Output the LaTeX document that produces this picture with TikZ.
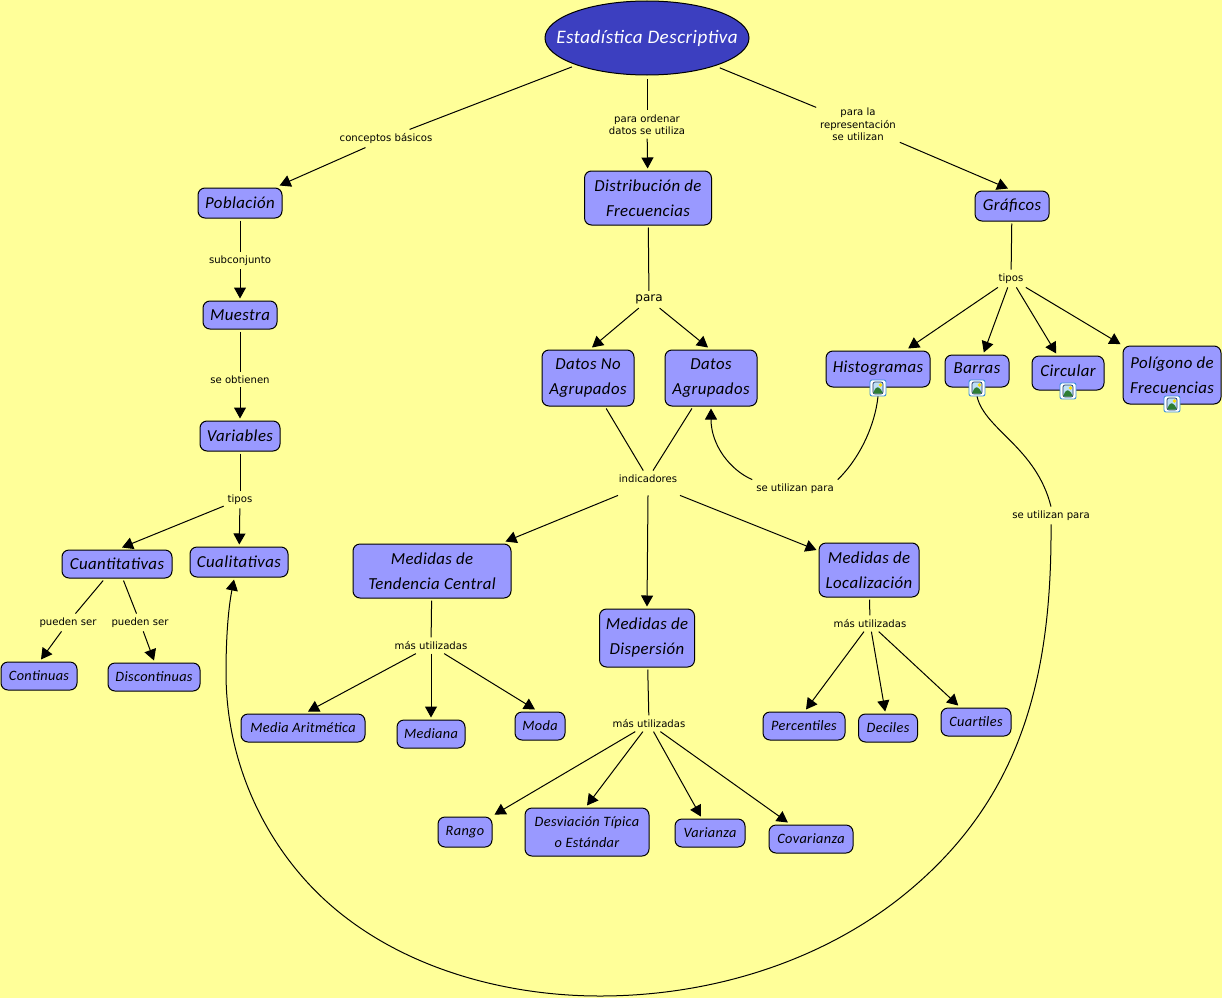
\documentclass[tikz,border=0pt]{standalone}
\usepackage{fontspec}
\usepackage{xcolor}
\usepackage{tikz}
\usetikzlibrary{shapes.geometric, arrows.meta}
\setmainfont{DejaVu Sans}
\newfontfamily\handfont[LetterSpace=2.5]{Carlito}
\definecolor{paper}{HTML}{FFFF99}
\definecolor{conceptfill}{HTML}{9999FF}
\definecolor{titlefill}{HTML}{3C3FC0}
\definecolor{iconblue}{HTML}{3B8FD8}
\definecolor{iconsky}{HTML}{BFE0F5}
\definecolor{iconhill}{HTML}{2E7D32}
\definecolor{iconframe}{HTML}{1F3864}

\begin{document}
\begin{tikzpicture}[
        x=1pt, y=-1pt,
        line width=1pt,
        % Define styles for the boxes, the linking words and the arrows
        concept/.style 2 args={draw, rectangle, rounded corners=7pt, fill=conceptfill, outer sep=2.5pt, inner sep=0pt, align=center, minimum width=#1pt, minimum height=#2pt, font=\handfont\itshape\fontsize{16.8}{25}\selectfont},
        small/.style={font=\handfont\itshape\fontsize{14.3}{21}\selectfont},
        withicon/.style={text depth=5pt},
        headline/.style={draw, ellipse, fill=titlefill, text=white, outer sep=4pt, inner xsep=-20pt, inner ysep=0pt, minimum width=204pt, minimum height=74pt, font=\handfont\itshape\fontsize{19.1}{21}\selectfont},
        linkword/.style={inner sep=0pt, outer sep=4pt, yshift=-1.5pt, align=center, font=\fontsize{10.1}{12.5}\selectfont},
        imgicon/.style={draw=iconblue, fill=white, rounded corners=2pt, minimum size=16pt, inner sep=0pt, line width=0.9pt,
            path picture={
                \fill[iconsky, draw=iconframe, line width=0.7pt] ([xshift=-5pt,yshift=-6pt]path picture bounding box.center) rectangle ([xshift=5pt,yshift=6pt]path picture bounding box.center);
                \fill[yellow!80!orange] ([xshift=2.5pt,yshift=3pt]path picture bounding box.center) circle (1.8pt);
                \fill[iconhill] ([xshift=-4.6pt,yshift=-5.6pt]path picture bounding box.center) -- ([xshift=-4.6pt,yshift=-3pt]path picture bounding box.center) -- ([xshift=-0.5pt,yshift=1.5pt]path picture bounding box.center) -- ([xshift=4.6pt,yshift=-3pt]path picture bounding box.center) -- ([xshift=4.6pt,yshift=-5.6pt]path picture bounding box.center) -- cycle;
            }},
        link/.style={draw, -{Triangle[length=11pt,width=12pt]}}
    ]
    \useasboundingbox (0,0) rectangle (1222,998);
    \fill[paper] (0,0) rectangle (1222,998);

    % Draw the title
    \node[headline] (title) at (647,38) {Estadística Descriptiva};

    % Draw the concept boxes, left branch
    \node[concept={84}{30}] (poblacion) at (240,203) {Población};
    \node[concept={74}{28}] (muestra) at (240,315) {Muestra};
    \node[concept={80}{30}] (variables) at (240,436) {Variables};
    \node[concept={110}{28}] (cuantitativas) at (117,564) {Cuantitativas};
    \node[concept={98}{30}] (cualitativas) at (239,562) {Cualitativas};
    \node[concept={76}{28}, small] (continuas) at (39,676) {Continuas};
    \node[concept={92}{28}, small] (discontinuas) at (154,677) {Discontinuas};

    % Draw the concept boxes, middle branch
    \node[concept={127}{54}] (distribucion) at (648,198) {Distribución de\\Frecuencias};
    \node[concept={92}{56}] (datosno) at (588,378) {Datos No\\Agrupados};
    \node[concept={92}{56}] (datossi) at (711,378) {Datos\\Agrupados};
    \node[concept={158}{54}] (tendencia) at (432,571) {Medidas de\\Tendencia Central};
    \node[concept={95}{58}] (dispersion) at (647,638) {Medidas de\\Dispersión};
    \node[concept={100}{54}] (localizacion) at (869,570) {Medidas de\\Localización};
    \node[concept={124}{28}, small] (media) at (303,728) {Media Aritmética};
    \node[concept={68}{28}, small] (mediana) at (431,734) {Mediana};
    \node[concept={50}{28}, small] (moda) at (540,726) {Moda};
    \node[concept={54}{30}, small] (rango) at (465,832) {Rango};
    \node[concept={124}{48}, small] (desviacion) at (587,832) {Desviación Típica\\o Estándar};
    \node[concept={70}{28}, small] (varianza) at (710,833) {Varianza};
    \node[concept={84}{28}, small] (covarianza) at (811,839) {Covarianza};
    \node[concept={82}{28}, small] (percentiles) at (804,726) {Percentiles};
    \node[concept={59}{28}, small] (deciles) at (888,728) {Deciles};
    \node[concept={70}{28}, small] (cuartiles) at (976,722) {Cuartiles};

    % Draw the concept boxes, right branch
    \node[concept={74}{30}] (graficos) at (1012,206) {Gráficos};
    \node[concept={104}{36}, withicon] (histogramas) at (878,369) {Histogramas};
    \node[concept={64}{32}, withicon] (barras) at (977,371) {Barras};
    \node[concept={72}{34}, withicon] (circular) at (1068,373) {Circular};
    \node[concept={98}{58}] (poligono) at (1172,375) {Polígono de\\Frecuencias};

    % Draw the image badges on the boxes
    \node[imgicon] (histogramasimg) at (878,388) {};
    \node[imgicon] (barrasimg) at (977,388) {};
    \node[imgicon] (circularimg) at (1068,391) {};
    \node[imgicon] (poligonoimg) at (1172,404) {};

    % Draw the linking words
    \node[linkword] (conceptos) at (386,137) {conceptos básicos};
    \node[linkword] (ordenar) at (647,123) {para ordenar\\datos se utiliza};
    \node[linkword] (representa) at (858,123) {para la\\representación\\se utilizan};
    \node[linkword] (subconjunto) at (240,259) {subconjunto};
    \node[linkword] (obtienen) at (240,378) {se obtienen};
    \node[linkword] (tipos) at (240,498) {tipos};
    \node[linkword] (puedencont) at (68,621) {pueden ser};
    \node[linkword] (puedendisc) at (140,621) {pueden ser};
    \node[linkword, font=\fontsize{12}{14}\selectfont] (para) at (649,298) {para};
    \node[linkword] (tiposgraf) at (1011,277) {tipos};
    \node[linkword] (indicadores) at (648,477) {indicadores};
    \node[linkword] (utilizanhist) at (795,487) {se utilizan para};
    \node[linkword] (utilizanbarr) at (1051,514) {se utilizan para};
    \node[linkword] (mastend) at (431,644) {más utilizadas};
    \node[linkword] (masdisp) at (649,722) {más utilizadas};
    \node[linkword] (masloc) at (870,622) {más utilizadas};

    % Draw the connecting lines, left branch
    \draw (title) -- (conceptos);
    \draw[link] (conceptos) -- (poblacion);
    \draw (poblacion) -- (subconjunto);
    \draw[link] (subconjunto) -- (muestra);
    \draw (muestra) -- (obtienen);
    \draw[link] (obtienen) -- (variables);
    \draw (variables) -- (tipos);
    \draw[link] (tipos) -- ([xshift=5pt]cuantitativas.north);
    \draw[link] (tipos) -- (cualitativas);
    \draw (cuantitativas) -- (puedencont);
    \draw[link] (puedencont) -- ([xshift=2pt]continuas.north);
    \draw (cuantitativas) -- (puedendisc);
    \draw[link] (puedendisc) -- (discontinuas.north);

    % Draw the connecting lines, middle branch
    \draw (title) -- (ordenar);
    \draw[link] (ordenar) -- (distribucion);
    \draw (distribucion) -- (para);
    \draw[link] (para) -- ([xshift=4pt]datosno.north);
    \draw[link] (para) -- ([xshift=-3pt]datossi.north);
    \draw (datosno) -- (indicadores);
    \draw (datossi) -- (indicadores);
    \draw[link] ([xshift=-30pt,yshift=-9pt]indicadores.south) -- ([xshift=-8pt]tendencia.north east);
    \draw[link] ([yshift=-9pt]indicadores.south) -- (dispersion.north);
    \draw[link] ([xshift=32pt,yshift=-9pt]indicadores.south) -- ([yshift=20pt]localizacion.west);
    \draw (tendencia) -- (mastend);
    \draw[link] (mastend) -- ([xshift=5pt]media.north);
    \draw[link] (mastend) -- (mediana);
    \draw[link] (mastend) -- ([xshift=-5pt]moda.north);
    \draw (dispersion) -- (masdisp);
    \draw[link] (masdisp) -- (rango);
    \draw[link] (masdisp) -- (desviacion.north);
    \draw[link] (masdisp) -- (varianza);
    \draw[link] (masdisp) -- (covarianza);
    \draw (localizacion) -- (masloc);
    \draw[link] (masloc) -- ([xshift=2pt]percentiles.north);
    \draw[link] (masloc) -- (deciles);
    \draw[link] (masloc) -- (cuartiles);

    % Draw the connecting lines, right branch
    \draw (title) -- (representa);
    \draw[link] (representa) -- ([xshift=-4pt]graficos.north);
    \draw (graficos) -- (tiposgraf);
    \draw[link] (tiposgraf) -- (histogramas);
    \draw[link] (tiposgraf) -- (barras);
    \draw[link] (tiposgraf) -- (circular);
    \draw[link] (tiposgraf) -- (poligono);

    % Draw the curved lines
    \draw (histogramasimg.south) .. controls (875,425) and (860,458) .. (utilizanhist.north east);
    \draw[link] (utilizanhist.north west) .. controls (730,470) and (711,445) .. (datossi.south);
    \draw (barrasimg.south) .. controls (985,430) and (1036,447) .. (utilizanbarr.north);
    \coordinate (loopa) at (900,898);
    \coordinate (loopb) at (600,996);
    \coordinate (loopc) at (307,882);
    \coordinate (loopd) at (226,673);
    \draw[link] (utilizanbarr.south) .. controls (1052,680) and (1020,803) .. (loopa)
        .. controls (816,964) and (707,996) .. (loopb)
        .. controls (493,996) and (379,961) .. (loopc)
        .. controls (255,825) and (226,750) .. (loopd)
        .. controls (226,640) and (228,610) .. ([xshift=-5pt]cualitativas.south);

\end{tikzpicture}
\end{document}
